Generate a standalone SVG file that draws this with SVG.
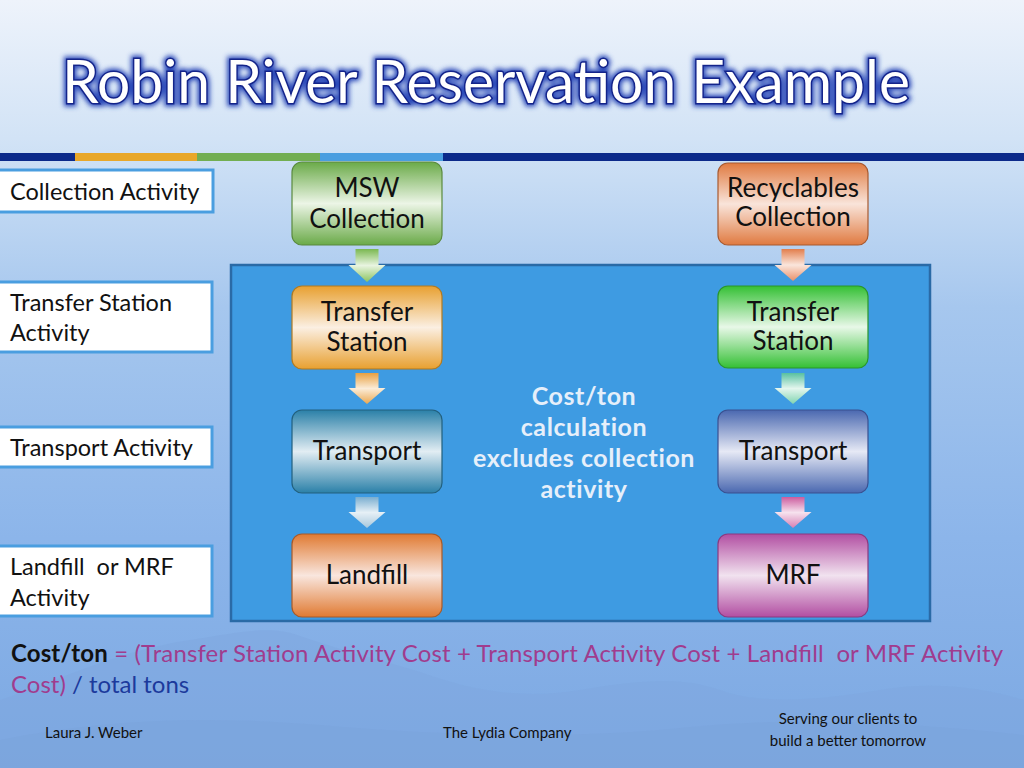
<svg xmlns="http://www.w3.org/2000/svg" width="1024" height="768" viewBox="0 0 1024 768">
<defs>
<linearGradient id="bg" x1="0" y1="0" x2="0" y2="1">
<stop offset="0" stop-color="#eef3fb"/>
<stop offset="0.18" stop-color="#d2e3f6"/>
<stop offset="0.4" stop-color="#a6c7ee"/>
<stop offset="0.7" stop-color="#8cb5ea"/>
<stop offset="1" stop-color="#7ca8e2"/>
</linearGradient>
<linearGradient id="gMSW" x1="0" y1="0" x2="0" y2="1"><stop offset="0" stop-color="#6aaa48"/><stop offset="0.5" stop-color="#ecf5e6"/><stop offset="1" stop-color="#6aaa48"/></linearGradient>
<linearGradient id="gTSL" x1="0" y1="0" x2="0" y2="1"><stop offset="0" stop-color="#e8a030"/><stop offset="0.5" stop-color="#fbefe2"/><stop offset="1" stop-color="#e8a030"/></linearGradient>
<linearGradient id="gTRL" x1="0" y1="0" x2="0" y2="1"><stop offset="0" stop-color="#2a80a8"/><stop offset="0.5" stop-color="#e2edf3"/><stop offset="1" stop-color="#2a80a8"/></linearGradient>
<linearGradient id="gLF" x1="0" y1="0" x2="0" y2="1"><stop offset="0" stop-color="#e07a32"/><stop offset="0.5" stop-color="#f9e6de"/><stop offset="1" stop-color="#e07a32"/></linearGradient>
<linearGradient id="gRC" x1="0" y1="0" x2="0" y2="1"><stop offset="0" stop-color="#e07a40"/><stop offset="0.5" stop-color="#f9e4da"/><stop offset="1" stop-color="#e07a40"/></linearGradient>
<linearGradient id="gTSR" x1="0" y1="0" x2="0" y2="1"><stop offset="0" stop-color="#34c034"/><stop offset="0.5" stop-color="#e8f8e8"/><stop offset="1" stop-color="#34c034"/></linearGradient>
<linearGradient id="gTRR" x1="0" y1="0" x2="0" y2="1"><stop offset="0" stop-color="#4a68b0"/><stop offset="0.5" stop-color="#e6e9f5"/><stop offset="1" stop-color="#4a68b0"/></linearGradient>
<linearGradient id="gMRF" x1="0" y1="0" x2="0" y2="1"><stop offset="0" stop-color="#b24ea2"/><stop offset="0.5" stop-color="#f1e2ef"/><stop offset="1" stop-color="#b24ea2"/></linearGradient>
<linearGradient id="aG" x1="0" y1="0" x2="0" y2="1"><stop offset="0" stop-color="#7ab850"/><stop offset="0.5" stop-color="#e8f4e0"/><stop offset="1" stop-color="#8cc460"/></linearGradient>
<linearGradient id="aO" x1="0" y1="0" x2="0" y2="1"><stop offset="0" stop-color="#e8a040"/><stop offset="0.5" stop-color="#fbecd8"/><stop offset="1" stop-color="#eba850"/></linearGradient>
<linearGradient id="aB" x1="0" y1="0" x2="0" y2="1"><stop offset="0" stop-color="#7aaed0"/><stop offset="0.5" stop-color="#e6f0f6"/><stop offset="1" stop-color="#a8c8dc"/></linearGradient>
<linearGradient id="aR" x1="0" y1="0" x2="0" y2="1"><stop offset="0" stop-color="#e27e4c"/><stop offset="0.5" stop-color="#fae6dc"/><stop offset="1" stop-color="#e8906a"/></linearGradient>
<linearGradient id="aT" x1="0" y1="0" x2="0" y2="1"><stop offset="0" stop-color="#58c0a0"/><stop offset="0.5" stop-color="#e4f6ee"/><stop offset="1" stop-color="#80d4b0"/></linearGradient>
<linearGradient id="aP" x1="0" y1="0" x2="0" y2="1"><stop offset="0" stop-color="#cc5c9e"/><stop offset="0.5" stop-color="#f6e2ee"/><stop offset="1" stop-color="#d680b4"/></linearGradient>
<filter id="glow" x="-5%" y="-20%" width="110%" height="140%"><feGaussianBlur stdDeviation="2.5"/></filter>
</defs>
<style>
.lbl{fill:#ffffff;stroke:#4a9ee0;stroke-width:3}
.lt{font-family:Lato,"Liberation Sans",sans-serif;font-size:23.5px;fill:#111}
.node{stroke-width:1.2}
.nt{font-family:Lato,"Liberation Sans",sans-serif;font-size:26px;fill:#111;text-anchor:middle}
.ct{font-family:Lato,"Liberation Sans",sans-serif;font-size:25px;font-weight:bold;fill:#e6effa;text-anchor:middle;letter-spacing:0.6px}
.ft{font-family:Lato,"Liberation Sans",sans-serif;font-size:15px;fill:#111}
.fm{font-family:Lato,"Liberation Sans",sans-serif;font-size:24px}
</style>
<rect x="0" y="0" width="1024" height="768" fill="url(#bg)"/>
<path d="M0,700 C60,680 120,650 190,640 C240,632 270,625 300,636 C340,650 380,660 420,672 C470,690 520,700 580,690 C640,680 680,676 720,690 C760,705 820,700 880,690 C940,680 990,690 1024,700 L1024,768 L0,768 Z" fill="#7ea6de" opacity="0.45"/>
<path d="M0,740 C100,720 200,715 320,725 C440,735 560,740 680,728 C800,716 900,722 1024,735 L1024,768 L0,768 Z" fill="#7aa2da" opacity="0.4"/>
<g id="title">
<text x="62" y="103" font-family="Lato,'Liberation Sans',sans-serif" font-size="60" textLength="848" lengthAdjust="spacingAndGlyphs" fill="none" stroke="#2a48b8" stroke-width="7" filter="url(#glow)">Robin River Reservation Example</text>
<text x="62" y="103" font-family="Lato,'Liberation Sans',sans-serif" font-size="60" textLength="848" lengthAdjust="spacingAndGlyphs" fill="#ffffff" stroke="#14248a" stroke-width="3" paint-order="stroke">Robin River Reservation Example</text>
</g>
<g id="topbar">
<rect x="0" y="153" width="75" height="8" fill="#0c2a8a"/>
<rect x="75" y="153" width="122" height="8" fill="#e8a72a"/>
<rect x="197" y="153" width="123" height="8" fill="#72ae52"/>
<rect x="320" y="153" width="123" height="8" fill="#4a9ee0"/>
<rect x="443" y="153" width="581" height="8" fill="#0c2a8a"/>
</g>
<g id="cost-region">
<rect x="231" y="265" width="699" height="356" fill="#3e9be2" stroke="#2a6aa6" stroke-width="2.5"/>
<text class="ct" x="584" y="405">Cost/ton</text>
<text class="ct" x="584" y="436">calculation</text>
<text class="ct" x="584" y="467">excludes collection</text>
<text class="ct" x="584" y="498">activity</text>
</g>
<g id="label-collection"><rect class="lbl" x="-2" y="170" width="215" height="42"/><text class="lt" x="10" y="200">Collection Activity</text></g>
<g id="label-transfer"><rect class="lbl" x="-2" y="282" width="214" height="70"/><text class="lt" x="10" y="311">Transfer Station</text><text class="lt" x="10" y="341">Activity</text></g>
<g id="label-transport"><rect class="lbl" x="-2" y="427" width="214" height="40"/><text class="lt" x="10" y="456">Transport Activity</text></g>
<g id="label-landfill"><rect class="lbl" x="-2" y="546" width="214" height="70"/><text class="lt" x="10" y="575" xml:space="preserve">Landfill  or MRF</text><text class="lt" x="10" y="606">Activity</text></g>
<g id="connectors">
<path d="M355.5,249 H378.5 V265 H385.5 L367,282 L348.5,265 H355.5 Z" fill="url(#aG)"/>
<path d="M355.5,373 H378.5 V388 H385.5 L367,404 L348.5,388 H355.5 Z" fill="url(#aO)"/>
<path d="M355.5,497 H378.5 V512 H385.5 L367,528 L348.5,512 H355.5 Z" fill="url(#aB)"/>
<path d="M781.5,249 H804.5 V265 H811.5 L793,281 L774.5,265 H781.5 Z" fill="url(#aR)"/>
<path d="M781.5,373 H804.5 V388 H811.5 L793,404 L774.5,388 H781.5 Z" fill="url(#aT)"/>
<path d="M781.5,497 H804.5 V512 H811.5 L793,528 L774.5,512 H781.5 Z" fill="url(#aP)"/>
</g>
<g id="msw-collection"><rect class="node" x="292" y="162" width="150" height="83" rx="10" fill="url(#gMSW)" stroke="#5a8a3e"/><text class="nt" x="367" y="197">MSW</text><text class="nt" x="367" y="228">Collection</text></g>
<g id="transfer-left"><rect class="node" x="292" y="286" width="150" height="83" rx="10" fill="url(#gTSL)" stroke="#b07a22"/><text class="nt" x="367" y="321">Transfer</text><text class="nt" x="367" y="351">Station</text></g>
<g id="transport-left"><rect class="node" x="292" y="410" width="150" height="83" rx="10" fill="url(#gTRL)" stroke="#22607e"/><text class="nt" x="367" y="460">Transport</text></g>
<g id="landfill"><rect class="node" x="292" y="534" width="150" height="83" rx="10" fill="url(#gLF)" stroke="#a85a28"/><text class="nt" x="367" y="584">Landfill</text></g>
<g id="recyclables-collection"><rect class="node" x="718" y="163" width="150" height="82" rx="10" fill="url(#gRC)" stroke="#a85a30"/><text class="nt" x="793" y="197">Recyclables</text><text class="nt" x="793" y="226">Collection</text></g>
<g id="transfer-right"><rect class="node" x="718" y="286" width="150" height="82" rx="10" fill="url(#gTSR)" stroke="#2a962a"/><text class="nt" x="793" y="321">Transfer</text><text class="nt" x="793" y="350">Station</text></g>
<g id="transport-right"><rect class="node" x="718" y="410" width="150" height="83" rx="10" fill="url(#gTRR)" stroke="#3a5090"/><text class="nt" x="793" y="460">Transport</text></g>
<g id="mrf"><rect class="node" x="718" y="534" width="150" height="83" rx="10" fill="url(#gMRF)" stroke="#8a3a80"/><text class="nt" x="793" y="584">MRF</text></g>
<g id="formula">
<text class="fm" x="11" y="662" textLength="992" lengthAdjust="spacing" xml:space="preserve"><tspan font-weight="bold" fill="#111">Cost/ton</tspan><tspan fill="#a03c8e"> = (Transfer Station Activity Cost + Transport Activity Cost + Landfill  or MRF Activity</tspan></text>
<text class="fm" x="11" y="693"><tspan fill="#a03c8e">Cost)</tspan><tspan fill="#1c3a9c"> / total tons</tspan></text>
</g>
<g id="footer">
<text class="ft" x="45" y="738">Laura J. Weber</text>
<text class="ft" x="443" y="738">The Lydia Company</text>
<text class="ft" x="848" y="724" text-anchor="middle">Serving our clients to</text>
<text class="ft" x="848" y="746" text-anchor="middle">build a better tomorrow</text>
</g>
</svg>
